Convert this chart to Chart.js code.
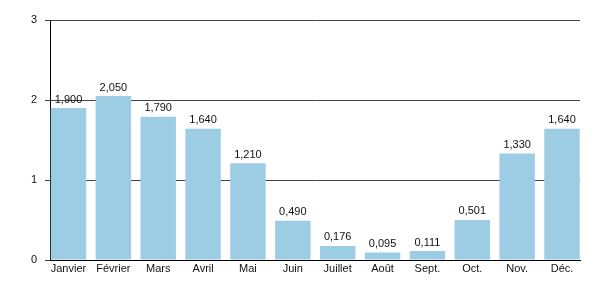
<!DOCTYPE html>
<html><head><meta charset="utf-8">
<script src="https://cdn.jsdelivr.net/npm/chart.js@4"></script>
<style>html,body{margin:0;padding:0;background:#fff}#wrap{width:600px;height:300px}</style>
</head><body><div id="wrap"><canvas id="c" width="600" height="300"></canvas></div>
<script>
const months = ["Janvier","Février","Mars","Avril","Mai","Juin","Juillet","Août","Sept.","Oct.","Nov.","Déc."];
const values = [1.900, 2.050, 1.790, 1.640, 1.210, 0.490, 0.176, 0.095, 0.111, 0.501, 1.330, 1.640];
const yTicks = [0, 1, 2, 3];

const FONT = "'Liberation Sans', Arial, sans-serif";

const valueLabels = {
  id: 'valueLabels',
  afterDatasetsDraw(chart) {
    const ctx = chart.ctx;
    const meta = chart.getDatasetMeta(0);
    ctx.save();
    ctx.font = "11px " + FONT;
    ctx.fillStyle = "#111";
    ctx.textAlign = "center";
    ctx.textBaseline = "bottom";
    meta.data.forEach((bar, i) => {
      ctx.fillText(values[i].toFixed(3).replace('.', ','), bar.x, bar.y - 3);
    });
    ctx.restore();
  }
};

new Chart(document.getElementById('c'), {
  type: 'bar',
  data: {
    datasets: [{
      data: values.map((v, i) => ({x: i, y: v})),
      backgroundColor: '#9dcde5',
      borderWidth: 0,
      barPercentage: 0.79,
      categoryPercentage: 1.0
    }]
  },
  options: {
    responsive: false,
    animation: false,
    devicePixelRatio: 1,
    layout: {padding: {top: 20, right: 20, left: 0, bottom: 0}},
    plugins: {legend: {display: false}, tooltip: {enabled: false}},
    scales: {
      x: {
        type: 'linear',
        offset: false,
        min: -0.412,
        max: 11.401,
        afterBuildTicks(scale) { scale.ticks = months.map((m, i) => ({value: i})); },
        afterFit(scale) { scale.height = 40; },
        ticks: {
          autoSkip: false,
          maxRotation: 0,
          padding: 2,
          color: '#111',
          font: {family: FONT, size: 11},
          callback: (v) => months[v]
        },
        grid: {display: false, drawTicks: false, offset: false},
        border: {display: true, color: '#000', width: 1}
      },
      y: {
        min: 0,
        max: 3,
        afterBuildTicks(scale) { scale.ticks = yTicks.map(v => ({value: v})); },
        afterFit(scale) { scale.width = 50; },
        ticks: {
          padding: 8,
          color: '#111',
          font: {family: FONT, size: 11}
        },
        grid: {color: '#444', lineWidth: 1, tickLength: 5, drawTicks: true},
        border: {display: true, color: '#000', width: 1}
      }
    }
  },
  plugins: [valueLabels]
});
</script>
</body></html>
